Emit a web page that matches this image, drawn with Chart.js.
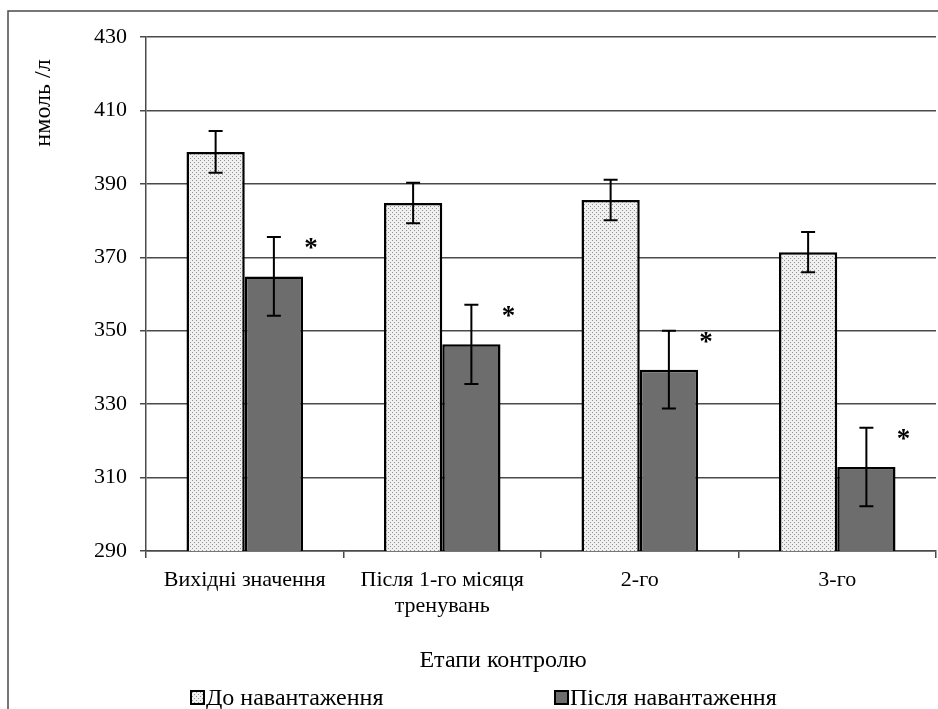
<!DOCTYPE html>
<html>
<head>
<meta charset="utf-8">
<script src="https://cdn.jsdelivr.net/npm/chart.js@4.4.0/dist/chart.umd.min.js"></script>
<style>
html, body { margin: 0; padding: 0; background: #fff; }
#wrap { width: 938px; height: 709px; position: relative; }
</style>
</head>
<body>
<div id="wrap"><canvas id="myChart"></canvas></div>
<script>
// дані
const categories = ['Вихідні значення', ['Після 1-го місяця', 'тренувань'], '2-го', '3-го'];
const seriesNames = ['До навантаження', 'Після навантаження'];
const beforeValues = [398.7, 384.8, 385.6, 371.4];
const beforeErrors = [5.7, 5.5, 5.5, 5.5];
const afterValues = [364.8, 346.3, 339.4, 312.9];
const afterErrors = [10.7, 10.8, 10.6, 10.7];
const significant = [true, true, true, true];
const yTicks = [290, 310, 330, 350, 370, 390, 410, 430];

const SERIF = "'Liberation Serif', 'Times New Roman', serif";

document.addEventListener('DOMContentLoaded', function() {
    const ctx = document.getElementById('myChart').getContext('2d');

    // крапчаста заливка
    const tile = document.createElement('canvas');
    tile.width = 4; tile.height = 4;
    const t = tile.getContext('2d');
    t.fillStyle = '#f0f0f0'; t.fillRect(0, 0, 4, 4);
    t.fillStyle = '#909090'; t.fillRect(0, 0, 1, 1); t.fillRect(2, 2, 1, 1);
    const dots = ctx.createPattern(tile, 'repeat');
    const darkFill = '#6d6d6d';

    const extras = {
        id: 'extras',
        beforeDraw(chart) {
            const c = chart.ctx;
            c.save();
            c.strokeStyle = '#4a4a4a';
            c.lineWidth = 1.5;
            c.strokeRect(8, 11, 940, 720);
            c.restore();
        },
        afterDatasetsDraw(chart) {
            const c = chart.ctx;
            const y = chart.scales.y;
            c.save();
            c.strokeStyle = '#000';
            c.lineWidth = 2;
            [[beforeValues, beforeErrors], [afterValues, afterErrors]].forEach(([vals, errs], di) => {
                chart.getDatasetMeta(di).data.forEach((bar, i) => {
                    const top = y.getPixelForValue(vals[i] + errs[i]);
                    const bot = y.getPixelForValue(vals[i] - errs[i]);
                    c.beginPath();
                    c.moveTo(bar.x, top); c.lineTo(bar.x, bot);
                    c.moveTo(bar.x - 7, top); c.lineTo(bar.x + 7, top);
                    c.moveTo(bar.x - 7, bot); c.lineTo(bar.x + 7, bot);
                    c.stroke();
                });
            });

            // зірочки
            c.fillStyle = '#000';
            c.font = 'bold 27px ' + SERIF;
            c.textAlign = 'center';
            c.textBaseline = 'middle';
            chart.getDatasetMeta(1).data.forEach((bar, i) => {
                if (!significant[i]) return;
                const top = y.getPixelForValue(afterValues[i] + afterErrors[i]);
                c.fillText('*', bar.x + bar.width / 2 + 8, top + 12);
            });

            // підпис осі Y
            c.save();
            c.translate(44, 103);
            c.rotate(-Math.PI / 2);
            c.font = '24px ' + SERIF;
            c.fillText('нмоль /л', 0, 0);
            c.restore();

            // підпис осі X
            c.font = '24px ' + SERIF;
            c.fillText('Етапи контролю', 503, 661);

            // легенда
            c.textAlign = 'left';
            const items = [[191, dots], [555, darkFill]];
            items.forEach(([x, fill], i) => {
                c.fillStyle = fill;
                c.fillRect(x, 691, 13, 13);
                c.strokeStyle = '#000';
                c.lineWidth = 2;
                c.strokeRect(x, 691, 13, 13);
                c.fillStyle = '#000';
                c.fillText(seriesNames[i], x + 15, 699);
            });
            c.restore();
        }
    };

    new Chart(ctx, {
        type: 'bar',
        data: {
            labels: categories,
            datasets: [{
                label: seriesNames[0],
                data: beforeValues,
                backgroundColor: dots,
                borderColor: '#000',
                borderWidth: 2.5,
                borderSkipped: 'bottom'
            }, {
                label: seriesNames[1],
                data: afterValues,
                backgroundColor: darkFill,
                borderColor: '#000',
                borderWidth: 2.5,
                borderSkipped: 'bottom'
            }]
        },
        options: {
            responsive: true,
            maintainAspectRatio: false,
            animation: false,
            layout: { padding: { left: 0, top: 37, right: 2, bottom: 32 } },
            datasets: { bar: { barPercentage: 1, categoryPercentage: 0.59 } },
            plugins: {
                legend: { display: false },
                tooltip: { enabled: false }
            },
            scales: {
                x: {
                    afterFit(scale) { scale.height = 126; },
                    grid: { offset: true, drawOnChartArea: false, drawTicks: true, tickLength: 7, color: '#4a4a4a', lineWidth: 1.5 },
                    border: { display: true, color: '#4a4a4a', width: 1.5 },
                    ticks: { color: '#000', font: { family: SERIF, size: 22 }, padding: 9, maxRotation: 0, autoSkip: false }
                },
                y: {
                    min: yTicks[0],
                    max: yTicks[yTicks.length - 1],
                    afterFit(scale) { scale.width = 146; },
                    afterBuildTicks(scale) { scale.ticks = yTicks.map(v => ({ value: v })); },
                    grid: { color: '#4a4a4a', lineWidth: 1.5, tickLength: 6 },
                    border: { display: true, color: '#4a4a4a', width: 1.5 },
                    ticks: { color: '#000', font: { family: SERIF, size: 22 }, padding: 13 }
                }
            }
        },
        plugins: [extras]
    });
});
</script>
</body>
</html>
